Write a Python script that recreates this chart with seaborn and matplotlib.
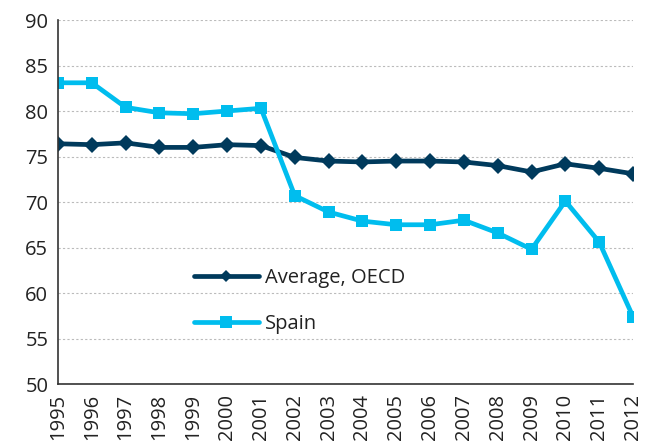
import matplotlib
matplotlib.use("Agg")
import matplotlib.pyplot as plt
import seaborn as sns
import pandas as pd

years = list(range(1995, 2013))
oecd = [76.4, 76.3, 76.5, 76.0, 76.0, 76.3, 76.2, 74.9, 74.5, 74.4, 74.5, 74.5, 74.4, 74.0, 73.3, 74.2, 73.7, 73.1]
spain = [83.1, 83.1, 80.4, 79.8, 79.7, 80.0, 80.3, 70.7, 68.9, 67.9, 67.5, 67.5, 68.0, 66.6, 64.8, 70.1, 65.6, 57.4]
series_names = ["Average, OECD", "Spain"]

df = pd.DataFrame({"year": years * 2,
                   "value": oecd + spain,
                   "series": [series_names[0]] * len(years) + [series_names[1]] * len(years)})

sns.set_style("white")
plt.rcParams['font.family'] = ['Open Sans', 'DejaVu Sans']

fig = plt.figure(figsize=(6.51, 4.44), dpi=100)
ax = fig.add_axes([58/651, 1 - 384/444, (633-58)/651, (384-20)/444])

palette = {"Average, OECD": "#003a5c", "Spain": "#00bdee"}
markers = {"Average, OECD": "D", "Spain": "s"}
sns.lineplot(data=df, x="year", y="value", hue="series", style="series",
             palette=palette, markers=markers, dashes=False, linewidth=3.4,
             markersize=8, markeredgewidth=0, ax=ax, legend=False)

ax.set_xlim(1995, 2012)
ax.set_ylim(50, 90)
ax.set_xticks(years)
ax.set_xticklabels([str(y) for y in years], rotation=90, fontsize=14.5, color="#222222")
ax.set_yticks(range(50, 91, 5))
ax.set_yticklabels([str(v) for v in range(50, 91, 5)], fontsize=14.5, color="#222222")
ax.set_xlabel("")
ax.set_ylabel("")
ax.yaxis.grid(True, linestyle=(0, (2, 2)), color="#bbbbbb", linewidth=0.8)
ax.set_axisbelow(True)
for s in ["top", "right"]:
    ax.spines[s].set_visible(False)
for s in ["left", "bottom"]:
    ax.spines[s].set_color("#333333")
    ax.spines[s].set_linewidth(1.2)
ax.tick_params(axis="both", which="both", length=5, width=1.2, color="#333333", direction="out", pad=2)

from matplotlib.lines import Line2D
handles = [Line2D([], [], color=palette[n], marker=markers[n], linewidth=3.4,
                  markersize=(6 if n == "Average, OECD" else 8), markeredgewidth=0) for n in series_names]
leg = ax.legend(handles, series_names, loc="upper left",
                bbox_to_anchor=((176-58)/575, 1 - (250-20)/364), frameon=False,
                fontsize=14.5, handlelength=3.2, handletextpad=0.3, labelspacing=1.3)
for t in leg.get_texts():
    t.set_color("#222222")

fig.savefig("out.png", dpi=100)
